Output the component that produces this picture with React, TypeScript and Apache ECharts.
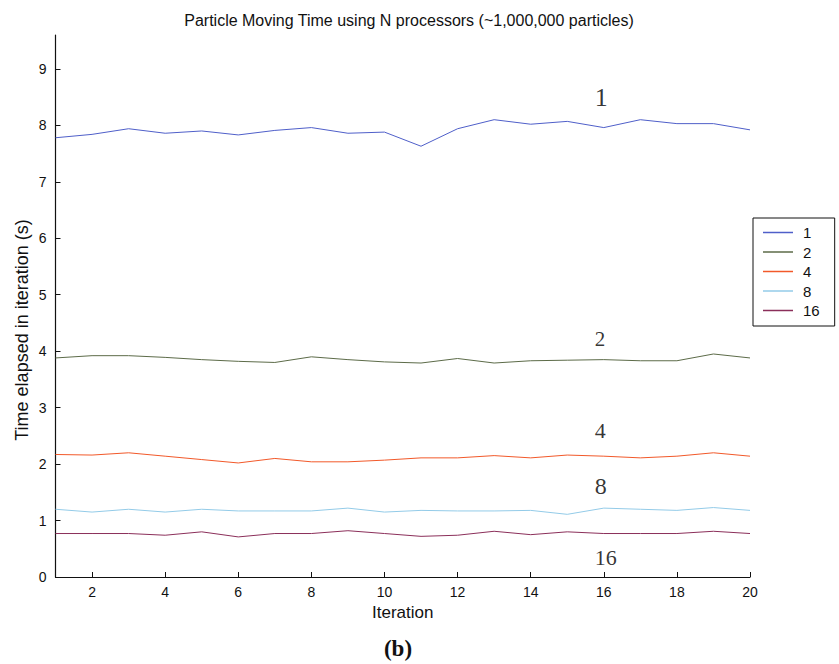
import React, { useEffect, useRef } from "react";
import * as echarts from "echarts";

// Iteration numbers on the x axis
const iterations = [1, 2, 3, 4, 5, 6, 7, 8, 9, 10, 11, 12, 13, 14, 15, 16, 17, 18, 19, 20];

// Time elapsed per iteration (s) for each processor count
const timeP1 = [7.78, 7.84, 7.94, 7.86, 7.9, 7.83, 7.91, 7.96, 7.86, 7.88, 7.63, 7.94, 8.1, 8.02, 8.07, 7.96, 8.1, 8.03, 8.03, 7.92];
const timeP2 = [3.88, 3.92, 3.92, 3.89, 3.85, 3.82, 3.8, 3.9, 3.85, 3.81, 3.79, 3.87, 3.79, 3.83, 3.84, 3.85, 3.83, 3.83, 3.95, 3.88];
const timeP4 = [2.17, 2.16, 2.2, 2.14, 2.08, 2.02, 2.1, 2.04, 2.04, 2.07, 2.11, 2.11, 2.15, 2.11, 2.16, 2.14, 2.11, 2.14, 2.2, 2.14];
const timeP8 = [1.2, 1.15, 1.2, 1.15, 1.2, 1.17, 1.17, 1.17, 1.22, 1.15, 1.18, 1.17, 1.17, 1.18, 1.11, 1.22, 1.2, 1.18, 1.23, 1.18];
const timeP16 = [0.77, 0.77, 0.77, 0.74, 0.8, 0.71, 0.77, 0.77, 0.82, 0.77, 0.72, 0.74, 0.81, 0.75, 0.8, 0.77, 0.77, 0.77, 0.81, 0.77];

const seriesNames = ["1", "2", "4", "8", "16"];
const seriesValues = [timeP1, timeP2, timeP4, timeP8, timeP16];
const seriesColors = ["#4f5fc9", "#5c6b48", "#f2592a", "#93cbe8", "#8b2f5a"];

// Tick labels
const yTicks = [0, 1, 2, 3, 4, 5, 6, 7, 8, 9];
const xTicks = [2, 4, 6, 8, 10, 12, 14, 16, 18, 20];

// In-plot labels naming each curve: [x, y, text]
const curveLabelX = [15.75, 15.75, 15.75, 15.75, 15.75];
const curveLabelY = [8.5, 4.22, 2.6, 1.62, 0.35];
const curveLabelText = ["1", "2", "4", "8", "16"];
const curveLabelSize = [26, 21, 22, 24, 22];

const SANS = "'Liberation Sans', Arial, Helvetica, sans-serif";
const SERIF = "'Liberation Serif', 'Times New Roman', serif";

export default function App() {
  const ref = useRef<HTMLDivElement>(null);

  useEffect(() => {
    if (!ref.current) return;
    const chart = echarts.init(ref.current, null, { renderer: "svg" });

    const lineSeries = seriesNames.map((name, i) => ({
      name,
      type: "line",
      symbol: "none",
      data: iterations.map((it, j) => [it, seriesValues[i][j]]),
      lineStyle: { color: seriesColors[i], width: 1 },
      itemStyle: { color: seriesColors[i] },
      z: 3,
    }));

    const labelSeries = {
      name: "curve-labels",
      type: "scatter",
      symbolSize: 0,
      silent: true,
      z: 4,
      data: curveLabelText.map((t, i) => ({
        value: [curveLabelX[i], curveLabelY[i], t],
        label: { fontSize: curveLabelSize[i] },
      })),
      label: {
        show: true,
        position: "inside",
        align: "left",
        verticalAlign: "middle",
        formatter: (p: any) => p.value[2],
        fontFamily: SERIF,
        color: "#000",
      },
    };

    chart.setOption({
      animation: false,
      backgroundColor: "#ffffff",
      title: {
        text: "Particle Moving Time using N processors (~1,000,000 particles)",
        left: 404,
        top: 7,
        textAlign: "center",
        textStyle: { fontFamily: SANS, fontSize: 16, fontWeight: "normal", color: "#111" },
      },
      grid: { left: 55.5, right: 89, top: 35, bottom: 87, containLabel: false },
      legend: {
        data: seriesNames.map((n) => ({ name: n, icon: "rect" })),
        orient: "vertical",
        left: 753,
        top: 218,
        itemWidth: 30,
        itemHeight: 1.5,
        itemGap: 4.5,
        padding: [7, 15, 8, 10],
        borderColor: "#111",
        borderWidth: 1,
        backgroundColor: "#fff",
        textStyle: { fontFamily: SANS, fontSize: 15, lineHeight: 14, color: "#111", padding: [0, 0, 0, 5] },
      },
      xAxis: {
        type: "value",
        min: 1,
        max: 20,
        name: "Iteration",
        nameLocation: "middle",
        nameGap: 22,
        nameTextStyle: { fontFamily: SANS, fontSize: 17, color: "#111", verticalAlign: "top" },
        axisLine: { show: true, onZero: false, lineStyle: { color: "#111", width: 1.2 } },
        axisTick: { show: true, inside: true, length: 5, customValues: xTicks, lineStyle: { color: "#111" } },
        axisLabel: { customValues: xTicks, fontFamily: SANS, fontSize: 14, color: "#111", margin: 8 },
        splitLine: { show: false },
      },
      yAxis: {
        type: "value",
        min: 0,
        max: 9.6,
        axisLine: { show: true, onZero: false, lineStyle: { color: "#111", width: 1.2 } },
        axisTick: { show: true, inside: true, length: 5, customValues: yTicks, lineStyle: { color: "#111" } },
        axisLabel: { customValues: yTicks, fontFamily: SANS, fontSize: 14, color: "#111", margin: 9 },
        splitLine: { show: false },
      },
      graphic: [
        {
          type: "text",
          x: 22,
          y: 330,
          rotation: Math.PI / 2,
          style: {
            text: "Time elapsed in iteration (s)",
            font: `18px ${SANS}`,
            fill: "#111",
            align: "center",
            verticalAlign: "middle",
          },
        },
        {
          type: "text",
          x: 398,
          y: 648,
          style: {
            text: "(b)",
            font: `bold 23px ${SERIF}`,
            fill: "#111",
            align: "center",
            verticalAlign: "middle",
          },
        },
      ],
      series: [...lineSeries, labelSeries],
    });

    return () => chart.dispose();
  }, []);

  return (
    <div
      ref={ref}
      style={{ position: "absolute", left: 0, top: 0, width: 839, height: 664 }}
    />
  );
}
